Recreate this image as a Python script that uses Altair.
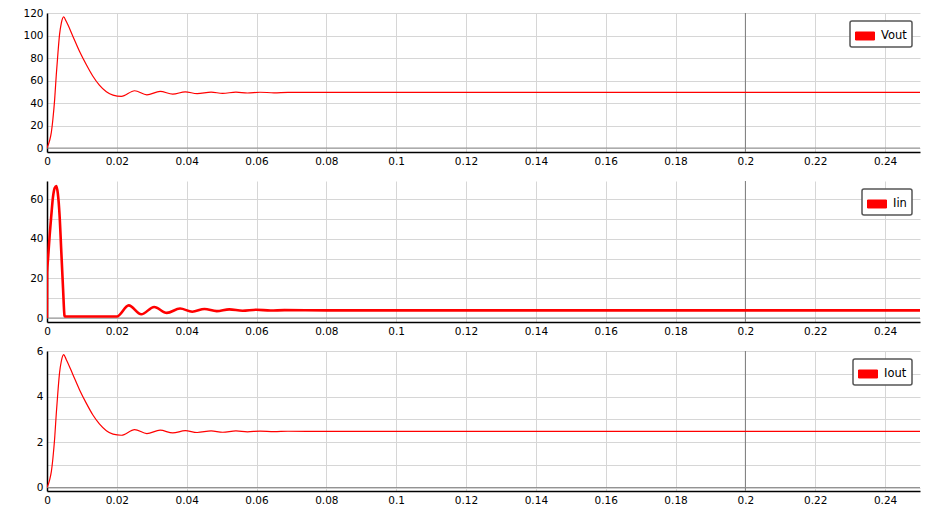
import altair as alt
import pandas as pd

# ---- data ----
x_ticks = [0, 0.02, 0.04, 0.06, 0.08, 0.1, 0.12, 0.14, 0.16, 0.18, 0.2, 0.22, 0.24]

vout_t = [0, 0.00076, 0.00124, 0.0017, 0.0022, 0.00267, 0.00314, 0.0036, 0.0041, 0.00476,
          0.0055, 0.0074, 0.0093, 0.0112, 0.0131, 0.015, 0.017, 0.0189, 0.0213,
          0.0251, 0.0286, 0.0324, 0.036, 0.0396, 0.043, 0.047, 0.0503, 0.0541,
          0.0574, 0.061, 0.065, 0.069, 0.08, 0.1, 0.25]
vout_v = [0, 6.8, 14, 26, 43.5, 65.6, 84.7, 101, 111, 116.5,
          112.6, 99.4, 86, 74.4, 64, 55.9, 50, 47, 45.9,
          50.9, 47.3, 50.3, 47.9, 50.0, 48.3, 49.7, 48.6, 49.7,
          48.9, 49.6, 49.1, 49.5, 49.4, 49.4, 49.4]

iin_t = [0, 0.00003, 0.0003, 0.00076, 0.00124, 0.0017, 0.0022, 0.0027, 0.0031, 0.0036,
         0.0041, 0.0046, 0.005, 0.0051, 0.02,
         0.0234, 0.0270, 0.0307, 0.0343, 0.0381, 0.0416, 0.0451, 0.0486,
         0.0522, 0.0560, 0.0599, 0.064, 0.068, 0.08, 0.1, 0.25]
iin_v = [0, 23, 30, 41.8, 52, 61, 65.8, 66.8, 63, 52,
         33.4, 14.8, 1.3, 0.8, 0.8,
         6.4, 1.9, 5.6, 2.6, 4.8, 3.2, 4.6, 3.5,
         4.4, 3.7, 4.2, 3.8, 4.0, 3.9, 3.9, 3.9]

iout_t = vout_t
iout_v = [0, 0.34, 0.7, 1.3, 2.18, 3.28, 4.24, 5.05, 5.55, 5.84,
          5.63, 4.97, 4.3, 3.72, 3.2, 2.8, 2.5, 2.35, 2.3,
          2.55, 2.37, 2.52, 2.40, 2.50, 2.42, 2.49, 2.43, 2.49,
          2.45, 2.48, 2.455, 2.475, 2.47, 2.47, 2.47]

FONT = "DejaVu Sans"
RECT = "M-1,-0.42H1V0.42H-1Z"


def panel(t, v, name, ydom, yvals, label_step, height, sw):
    df = pd.DataFrame({"t": t, "v": v, "series": name})
    xscale = alt.Scale(domain=[0, 0.25], nice=False, zero=False)
    yscale = alt.Scale(domain=ydom, nice=False, zero=False)
    xaxis = alt.Axis(values=x_ticks, format="~g", title=None, labelOverlap=False)
    yaxis = alt.Axis(values=yvals, title=None, labelOverlap=False,
                     labelExpr=f"datum.value % {label_step} == 0 ? datum.label : ''")
    zero = alt.Chart(pd.DataFrame({"z": [0]})).mark_rule(color="#8a8a8a", strokeWidth=1).encode(
        y=alt.Y("z:Q", scale=yscale, axis=yaxis))
    vline = alt.Chart(pd.DataFrame({"c": [0.2]})).mark_rule(color="#7a7a7a", strokeWidth=1).encode(
        x=alt.X("c:Q", scale=xscale, axis=xaxis))
    line = alt.Chart(df).mark_line(strokeWidth=sw, interpolate="monotone", clip=True).encode(
        x=alt.X("t:Q", scale=xscale, axis=xaxis),
        y=alt.Y("v:Q", scale=yscale, axis=yaxis),
        color=alt.Color("series:N", scale=alt.Scale(range=["#ff0000"]),
                        legend=alt.Legend(title=None, orient="top-right", offset=8,
                                          symbolType=RECT, symbolSize=361,
                                          symbolFillColor="#ff0000", symbolStrokeColor="#7a0000",
                                          symbolStrokeWidth=1, labelFont=FONT, labelFontSize=11.5,
                                          labelColor="black", labelOffset=6,
                                          strokeColor="#555555", fillColor="white",
                                          padding=5, cornerRadius=2)))
    return alt.layer(vline, zero, line).properties(width=873, height=height)


p1 = panel(vout_t, vout_v, "Vout", [-3.5, 120], list(range(0, 121, 20)), 20, 139, 1.2)
p2 = panel(iin_t, iin_v, "Iin", [-2, 69.3], list(range(0, 61, 10)), 20, 141, 2.6)
p3 = panel(iout_t, iout_v, "Iout", [-0.15, 6], list(range(0, 7)), 2, 140, 1.2)

chart = alt.vconcat(p1, p2, p3, spacing=29, bounds="flush").resolve_scale(
    color="independent").properties(padding=0).configure_view(stroke=None).configure_axis(
    labelFont=FONT, labelFontSize=10.5, labelColor="black", domainColor="black",
    domainWidth=1.5, ticks=False, gridColor="#d6d6d6", gridWidth=1,
    labelPadding=4, minExtent=39, maxExtent=39, labelFlush=False).configure_legend(
    strokeWidth=1.5)

chart.save("out.html", embed_options={"renderer": "svg", "actions": False})
